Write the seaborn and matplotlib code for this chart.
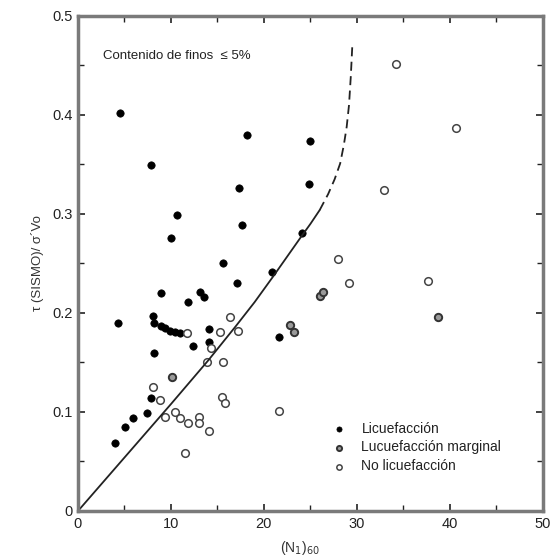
import numpy as np
import pandas as pd
import matplotlib
matplotlib.use("Agg")
import matplotlib.pyplot as plt
from matplotlib.ticker import MultipleLocator
import seaborn as sns

# --- data -----------------------------------------------------------
liq_x = [4.5, 7.8, 10.6, 10.0, 18.2, 17.3, 17.6, 25.0, 24.9, 24.1, 15.6, 17.1,
         20.9, 8.9, 11.8, 13.1, 13.6, 4.3, 8.1, 8.2, 8.9, 9.4, 9.9, 10.4, 11.0,
         14.1, 14.1, 12.4, 8.2, 7.9, 7.4, 5.9, 5.1, 4.0, 21.6]
liq_y = [0.402, 0.349, 0.299, 0.276, 0.380, 0.326, 0.289, 0.374, 0.330, 0.281,
         0.250, 0.230, 0.241, 0.220, 0.211, 0.221, 0.216, 0.190, 0.197, 0.190,
         0.187, 0.185, 0.182, 0.181, 0.180, 0.184, 0.171, 0.167, 0.160, 0.114,
         0.099, 0.094, 0.085, 0.069, 0.176]

marg_x = [10.1, 26.0, 26.3, 22.8, 23.2, 38.7]
marg_y = [0.135, 0.217, 0.221, 0.188, 0.181, 0.196]

noliq_x = [34.2, 40.7, 32.9, 28.0, 29.1, 37.7, 21.6, 16.3, 15.3, 14.3, 13.9,
           15.6, 11.7, 8.1, 8.8, 9.4, 10.4, 11.0, 11.8, 13.0, 13.0, 14.1, 11.5,
           15.5, 15.8, 17.2]
noliq_y = [0.451, 0.387, 0.324, 0.255, 0.230, 0.232, 0.101, 0.196, 0.181, 0.165,
           0.150, 0.150, 0.180, 0.125, 0.112, 0.095, 0.100, 0.094, 0.089, 0.095,
           0.089, 0.081, 0.059, 0.115, 0.109, 0.182]

curve_solid_x = [0, 5, 10, 14, 17, 19, 21, 22.5, 24, 25, 26]
curve_solid_y = [0.0, 0.054, 0.108, 0.152, 0.187, 0.211, 0.237, 0.257, 0.277,
                 0.290, 0.304]
curve_dash_x = [26, 26.9, 27.6, 28.2, 28.6, 28.9, 29.15, 29.35, 29.5]
curve_dash_y = [0.304, 0.320, 0.335, 0.351, 0.370, 0.388, 0.410, 0.440, 0.469]

labels = ["Licuefacción", "Lucuefacción marginal", "No licuefacción"]

# --- figure ---------------------------------------------------------
sns.set_theme(style="white")
plt.rcParams['font.family'] = ['Liberation Sans', 'DejaVu Sans']

fig = plt.figure(figsize=(5.5, 5.57), dpi=100)
ax = fig.add_axes([0.1418, 0.0826, 0.8452, 0.8887])

df_liq = pd.DataFrame({"x": liq_x, "y": liq_y})
df_marg = pd.DataFrame({"x": marg_x, "y": marg_y})
df_no = pd.DataFrame({"x": noliq_x, "y": noliq_y})

sns.lineplot(x=curve_solid_x, y=curve_solid_y, ax=ax, color="#222222",
             linewidth=1.3, sort=False)
sns.lineplot(x=curve_dash_x, y=curve_dash_y, ax=ax, color="#222222",
             linewidth=1.3, sort=False, linestyle=(0, (5, 3)))

sns.scatterplot(data=df_liq, x="x", y="y", ax=ax, marker="o", s=28,
                color="black", edgecolor="black", linewidth=0.5, label=labels[0])
sns.scatterplot(data=df_marg, x="x", y="y", ax=ax, marker="o", s=28,
                facecolor="#9a9a9a", edgecolor="#333333", linewidth=1.4,
                label=labels[1])
sns.scatterplot(data=df_no, x="x", y="y", ax=ax, marker="o", s=30,
                facecolor="white", edgecolor="#444444", linewidth=1.1,
                label=labels[2])

ax.set_xlim(0, 50)
ax.set_ylim(0, 0.5)
ax.set_xticks([0, 10, 20, 30, 40, 50])
ax.set_xticklabels(["0", "10", "20", "30", "40", "50"])
ax.set_yticks([0, 0.1, 0.2, 0.3, 0.4, 0.5])
ax.set_yticklabels(["0", "0.1", "0.2", "0.3", "0.4", "0.5"])
ax.xaxis.set_minor_locator(MultipleLocator(5))
ax.yaxis.set_minor_locator(MultipleLocator(0.05))
ax.tick_params(which="both", direction="in", top=True, right=True,
               bottom=True, left=True, labeltop=False, labelright=False,
               color="#222222", labelsize=10.5, labelcolor="#222222")
ax.tick_params(which="major", length=5, width=1.2, pad=4)
ax.tick_params(which="minor", length=4, width=1.0)
for sp in ax.spines.values():
    sp.set_color("#7a7a7a")
    sp.set_linewidth(2.5)

ax.set_xlabel("")
ax.set_ylabel("τ (SISMO)/ σ´Vo", fontsize=9.5, color="#333333", labelpad=6)

ax.text(2.7, 0.46, "Contenido de finos  ≤ 5%", fontsize=9.5, color="#222222",
        va="center", ha="left")

leg = ax.legend(loc="lower left", bbox_to_anchor=(0.52, 0.065), frameon=False,
                fontsize=10, handletextpad=0.6, labelspacing=0.35,
                markerscale=0.7, borderaxespad=0)
for t in leg.get_texts():
    t.set_color("#222222")

fig.text(300 / 550, 1 - 539 / 557, "(N$_1$)$_{60}$", fontsize=10,
         color="#333333", ha="center", va="top")

fig.savefig("out.png", dpi=100)
